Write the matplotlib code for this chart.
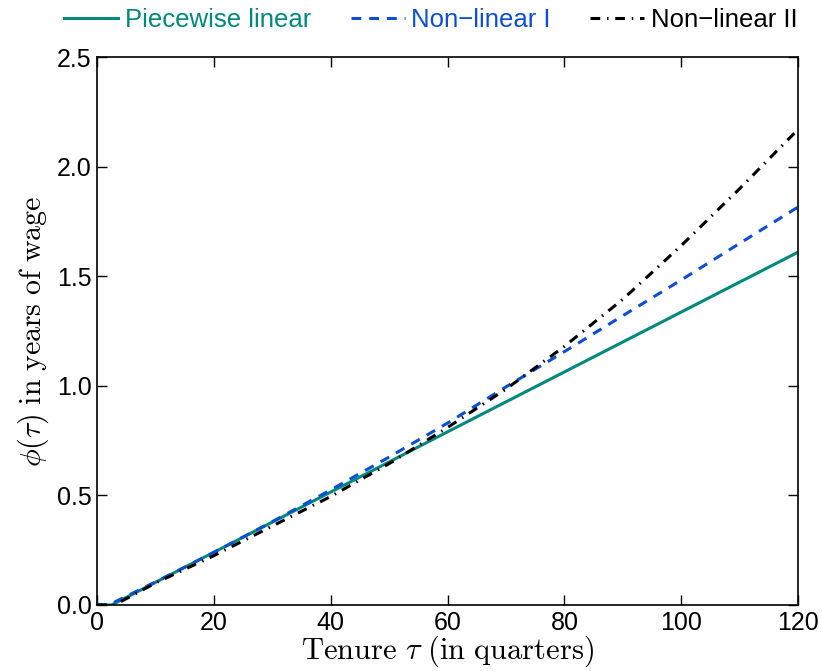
import matplotlib
matplotlib.use("Agg")
import matplotlib.pyplot as plt

# ------------------------------------------------------------
# Values
# ------------------------------------------------------------
tenure_linear = [0, 2.5, 60, 120]
phi_linear = [0.0, 0.0, 0.79, 1.61]

tenure_nl1 = [0, 2, 10, 20, 30, 40, 50, 60, 70, 80, 90, 100, 110, 120]
phi_nl1 = [0.0, 0.0, 0.105, 0.24, 0.38, 0.525, 0.675, 0.83, 0.995, 1.156, 1.32, 1.483, 1.65, 1.816]

tenure_nl2 = [0, 3, 10, 20, 30, 40, 50, 60, 70, 80, 90, 100, 110, 120]
phi_nl2 = [0.0, 0.0, 0.10, 0.225, 0.36, 0.495, 0.645, 0.81, 0.985, 1.18, 1.395, 1.64, 1.90, 2.17]

x_ticks = [0, 20, 40, 60, 80, 100, 120]
y_ticks = [0.0, 0.5, 1.0, 1.5, 2.0, 2.5]

teal = "#00897f"
blue = "#0c4fd6"

plt.rcParams["font.family"] = ["Liberation Sans", "DejaVu Sans"]
plt.rcParams["mathtext.fontset"] = "cm"

fig = plt.figure(figsize=(8.22, 6.71), dpi=100)
ax = fig.add_axes([0.118, 0.0984, 0.853, 0.8166])

ax.plot(tenure_linear, phi_linear, color=teal, lw=2.2, label="Piecewise linear")
ax.plot(tenure_nl1, phi_nl1, color=blue, lw=2.2, ls=(0, (3.2, 2.6)), label="Non\u2212linear I")
ax.plot(tenure_nl2, phi_nl2, color="black", lw=2.2, ls=(0, (3.2, 2.2, 0.5, 2.2)), label="Non\u2212linear II")

ax.set_xlim(0, 120)
ax.set_ylim(0, 2.5)
ax.set_xticks(x_ticks)
ax.set_yticks(y_ticks)
ax.set_yticklabels([f"{v:.1f}" for v in y_ticks])
ax.tick_params(direction="in", length=7, width=1, top=True, right=True,
               labelsize=18, pad=4)
for spine in ax.spines.values():
    spine.set_linewidth(1.2)

ax.set_xlabel(r"$\mathrm{Tenure}\ \tau\ \mathrm{(in\ quarters)}$", fontsize=22, labelpad=-1)
ax.set_ylabel(r"$\phi(\tau)\ \mathrm{in\ years\ of\ wage}$", fontsize=21.5, labelpad=4)

leg = fig.legend(loc="center", bbox_to_anchor=(0.524, 0.97), ncol=3, frameon=False,
                 fontsize=18.5, handlelength=2.1, handletextpad=0.25,
                 columnspacing=1.55, borderaxespad=0)
for text, line in zip(leg.get_texts(), leg.get_lines()):
    text.set_color(line.get_color())

fig.savefig("out.png", dpi=100)
